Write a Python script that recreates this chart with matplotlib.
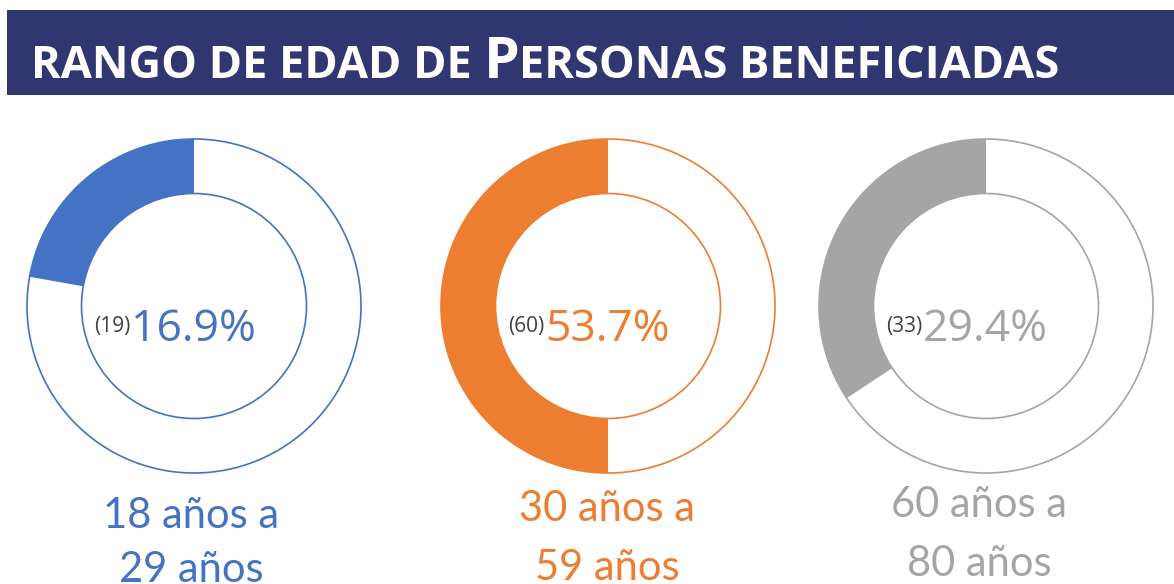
import matplotlib.pyplot as plt
from matplotlib.patches import Wedge, Circle, Rectangle

plt.rcParams['font.family'] = ['Lato', 'DejaVu Sans']

# data
groups = ['18 años a\n29 años', '30 años a\n59 años', '60 años a\n80 años']
counts = [19, 60, 33]
percents = [16.9, 53.7, 29.4]
ring_fill = [0.222, 0.50, 0.343]   # part of each ring drawn filled, as in the original
colors = ['#4472C4', '#ED7D31', '#A5A5A5']

# layout (pixel coordinates, y down)
W, H = 1174, 584
centers_x = [194, 608, 986]
cy = 306
r_out, r_in = 167, 112.5
label_x = [191, 607, 979]
label_base1 = [528, 521, 517]
label_base2 = [582, 580, 576]

fig = plt.figure(figsize=(W / 100, H / 100), dpi=100)
ax = fig.add_axes([0, 0, 1, 1])
ax.set_xlim(0, W)
ax.set_ylim(H, 0)
ax.axis('off')

# title bar
ax.add_patch(Rectangle((7, 10), W - 7, 85, color='#2F3670', lw=0))
renderer = fig.canvas.get_renderer()
x = 31
for part, size in [('RANGO DE EDAD DE ', 32.5), ('P', 41), ('ERSONAS BENEFICIADAS', 32.5)]:
    t = ax.text(x, 78, part, fontsize=size, fontweight='bold', color='white',
                family=['Open Sans', 'DejaVu Sans'], ha='left', va='baseline')
    bb = t.get_window_extent(renderer)
    x += bb.width

for i in range(3):
    cx = centers_x[i]
    col = colors[i]
    f = ring_fill[i]
    # filled arc: from 12 o'clock going counter-clockwise on screen (y axis is flipped)
    ax.add_patch(Wedge((cx, cy), r_out, -90 - f * 360, -90, width=r_out - r_in,
                       fc=col, ec='none'))
    ax.add_patch(Circle((cx, cy), r_out, fill=False, ec=col, lw=1.2))
    ax.add_patch(Circle((cx, cy), r_in, fill=False, ec=col, lw=1.2))

    # centre text: small count + big percentage, centred together
    small = ax.text(0, 0, f'({counts[i]})', fontsize=15, color='#404040',
                    family=['Open Sans', 'DejaVu Sans'], ha='left', va='baseline')
    big = ax.text(0, 0, f'{percents[i]:.1f}%', fontsize=32, color=col,
                  family=['Open Sans', 'DejaVu Sans'], ha='left', va='baseline')
    w1 = small.get_window_extent(renderer).width
    w2 = big.get_window_extent(renderer).width
    x0 = cx - 19 - (w1 + w2) / 2
    small.set_position((x0, 332))
    big.set_position((x0 + w1, 341))

    # group label under the ring
    line1, line2 = groups[i].split('\n')
    ax.text(label_x[i], label_base1[i], line1, fontsize=30, color=col,
            ha='center', va='baseline')
    ax.text(label_x[i], label_base2[i], line2, fontsize=30, color=col,
            ha='center', va='baseline')

fig.savefig('out.png', dpi=100)
